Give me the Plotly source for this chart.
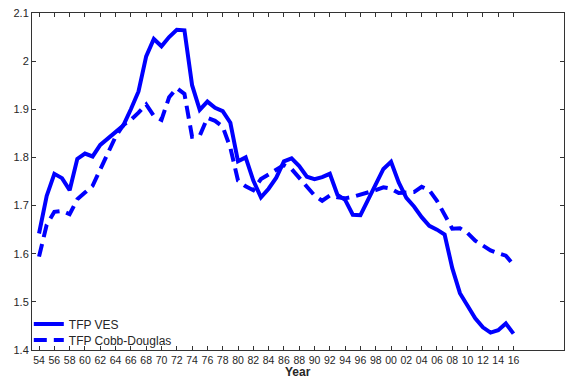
import plotly.graph_objects as go

# Years 1954-2016
years = list(range(1954, 2017))

tfp_ves = [
    1.642, 1.720, 1.766, 1.757, 1.732, 1.797, 1.808, 1.802, 1.826, 1.840,
    1.853, 1.866, 1.900, 1.937, 2.010, 2.046, 2.031, 2.050, 2.065, 2.064,
    1.950, 1.899, 1.916, 1.903, 1.896, 1.872, 1.792, 1.800, 1.752, 1.717,
    1.735, 1.758, 1.792, 1.798, 1.782, 1.760, 1.755, 1.759, 1.766, 1.722,
    1.712, 1.681, 1.680, 1.712, 1.748, 1.776, 1.791, 1.748, 1.716, 1.698,
    1.676, 1.658, 1.650, 1.640, 1.570, 1.518, 1.492, 1.466, 1.447, 1.436,
    1.441, 1.455, 1.434,
]

tfp_cobb_douglas = [
    1.594, 1.660, 1.687, 1.689, 1.682, 1.713, 1.727, 1.741, 1.775, 1.810,
    1.843, 1.867, 1.878, 1.893, 1.910, 1.886, 1.878, 1.925, 1.944, 1.932,
    1.843, 1.845, 1.882, 1.876, 1.864, 1.820, 1.752, 1.740, 1.732, 1.755,
    1.765, 1.774, 1.784, 1.776, 1.758, 1.740, 1.721, 1.710, 1.721, 1.717,
    1.715, 1.718, 1.722, 1.727, 1.732, 1.738, 1.735, 1.726, 1.726, 1.728,
    1.739, 1.732, 1.710, 1.680, 1.652, 1.653, 1.643, 1.627, 1.616, 1.607,
    1.601, 1.596, 1.577,
]

tick_years = list(range(1954, 2017, 2))
tick_labels = [f"{y % 100:02d}" for y in tick_years]
y_ticks = [1.4, 1.5, 1.6, 1.7, 1.8, 1.9, 2.0, 2.1]
y_labels = ["1.4", "1.5", "1.6", "1.7", "1.8", "1.9", "2", "2.1"]

blue = "#0000FF"
ink = "#262626"
font_family = "Liberation Sans, Arial, Helvetica, sans-serif"

fig = go.Figure()
fig.add_trace(go.Scatter(
    x=years, y=tfp_ves, mode="lines", name="TFP VES",
    line=dict(color=blue, width=4), legend="legend",
))
fig.add_trace(go.Scatter(
    x=years, y=tfp_cobb_douglas, mode="lines", name="TFP Cobb-Douglas",
    line=dict(color=blue, width=4, dash="13px,7px"), legend="legend2",
))

axis_common = dict(
    showgrid=False, zeroline=False,
    showline=True, linecolor="#333333", linewidth=1,
    ticks="inside", ticklen=4, tickcolor="#333333", tickwidth=1,
    mirror="ticks",
)

legend_common = dict(
    xanchor="left", yanchor="middle",
    bgcolor="rgba(255,255,255,0)",
    font=dict(family=font_family, size=12, color=ink),
)

fig.update_layout(
    width=566, height=380,
    margin=dict(l=32, r=2, t=13, b=30),
    paper_bgcolor="white", plot_bgcolor="white",
    font=dict(family=font_family, color=ink),
    xaxis=dict(
        range=[1953.08, 2022.6],
        tickvals=tick_years, ticktext=tick_labels,
        ticklabelstandoff=0,
        tickfont=dict(family=font_family, size=10.5, color=ink),
        **axis_common,
    ),
    yaxis=dict(
        range=[1.4, 2.1],
        tickvals=y_ticks, ticktext=y_labels,
        tickfont=dict(family=font_family, size=11, color=ink),
        **axis_common,
    ),
    legend=dict(x=-0.006, y=0.077, **legend_common),
    legend2=dict(x=-0.006, y=0.030, **legend_common),
    showlegend=True,
    annotations=[dict(
        text="<b>Year</b>", xref="paper", yref="paper",
        x=0.5, y=-0.088, xanchor="center", yanchor="bottom",
        showarrow=False, borderpad=0,
        font=dict(family=font_family, size=12, color=ink),
    )],
)

fig.write_html("out.html")
